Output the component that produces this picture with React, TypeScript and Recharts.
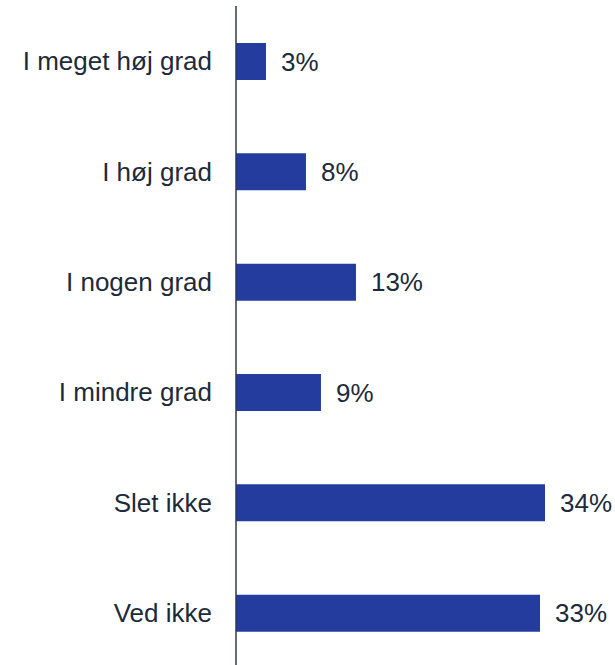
import { BarChart, Bar, XAxis, YAxis, LabelList } from "recharts";

const categories = [
  "I meget høj grad",
  "I høj grad",
  "I nogen grad",
  "I mindre grad",
  "Slet ikke",
  "Ved ikke",
];
// shares, labels shown rounded
const shares = [3.3, 7.7, 13.2, 9.35, 34, 33.45];

const data = categories.map((name, i) => ({ name, value: shares[i] }));

const textColor = "#1d2a3a";
const font = "'Liberation Sans', Arial, sans-serif";

export default function App() {
  return (
    <div style={{ position: "absolute", left: 0, top: 0, background: "#fff" }}>
      <BarChart
        width={615}
        height={670}
        data={data}
        layout="vertical"
        margin={{ top: 6, right: 70, bottom: 2, left: 0 }}
      >
        <XAxis type="number" hide domain={[0, 34]} />
        <YAxis
          type="category"
          dataKey="name"
          width={236}
          tickLine={false}
          tickSize={0}
          tickMargin={24}
          axisLine={{ stroke: "#2e3a4b", strokeWidth: 1.5 }}
          tick={{ fill: textColor, fontSize: 26, fontFamily: font }}
        />
        <Bar dataKey="value" fill="#233c9e" barSize={37} isAnimationActive={false}>
          <LabelList
            dataKey="value"
            position="right"
            offset={15}
            formatter={(v: number) => `${Math.round(v)}%`}
            style={{ fill: textColor, fontSize: 26, fontFamily: font }}
          />
        </Bar>
      </BarChart>
    </div>
  );
}
